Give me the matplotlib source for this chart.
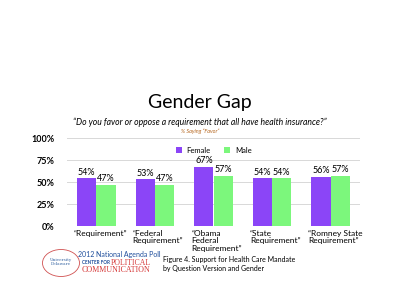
import numpy as np
import matplotlib.pyplot as plt
from matplotlib.patches import Ellipse

categories = ['\u201cRequirement\u201d', '\u201cFederal\nRequirement\u201d',
              '\u201cObama\nFederal\nRequirement\u201d', '\u201cState\nRequirement\u201d',
              '\u201cRomney State\nRequirement\u201d']
female = [54, 53, 67, 54, 56]
male = [47, 47, 57, 54, 57]
yticks = [0, 25, 50, 75, 100]

purple = '#8b45f7'
green = '#7cf77c'
plt.rcParams['font.family'] = ['Lato', 'DejaVu Sans']

fig = plt.figure(figsize=(4, 3), dpi=100)
ax = fig.add_axes([67 / 400, 1 - 226 / 300, 293 / 400, 88 / 300])

x = np.arange(len(categories))
w = 0.33
b1 = ax.bar(x - w / 2, female, w, color=purple, label='Female')
b2 = ax.bar(x + w / 2, male, w, color=green, label='Male')
for bars, vals in ((b1, female), (b2, male)):
    for r, v in zip(bars, vals):
        ax.text(r.get_x() + r.get_width() / 2, v + 2, f'{v}%', ha='center',
                va='bottom', fontsize=6.5)

ax.set_xlim(-0.5, 4.5)
ax.set_ylim(0, 100)
ax.set_yticks(yticks)
ax.set_yticklabels([f'{t}%' for t in yticks], fontsize=6.5, fontweight='bold')
ax.yaxis.grid(True, color='#d8d8d8', lw=0.7)
ax.set_axisbelow(True)
for s in ax.spines.values():
    s.set_visible(False)
ax.tick_params(length=0, pad=9)
ax.set_xticks([])
for i, c in enumerate(categories):
    ax.text(i - 0.38, -4, c, ha='left', va='top', fontsize=6, linespacing=1.1)

ax.legend(loc='upper center', bbox_to_anchor=(0.5, 0.98), ncol=2, frameon=False,
          fontsize=5.5, handlelength=0.8, handleheight=0.8, columnspacing=1.8,
          handletextpad=0.6)

fig.text(0.5, 1 - 103 / 300, 'Gender Gap', ha='center', va='center', fontsize=14)
fig.text(0.5, 1 - 122 / 300,
         '\u201cDo you favor or oppose a requirement that all have health insurance?\u201d',
         ha='center', va='center', fontsize=6.2, style='italic')
fig.text(0.5, 1 - 131 / 300, '% Saying \u201cFavor\u201d', ha='center', va='center',
         fontsize=4, style='italic', color='#b5651d')

# logo and caption
fig.patches.append(Ellipse((61 / 400, 1 - 263 / 300), 37 / 400, 27 / 300,
                           transform=fig.transFigure, fill=False, ec='#d05050', lw=0.6))
fig.text(61 / 400, 1 - 262 / 300, 'University\nDelaware', ha='center', va='center',
         fontsize=3, color='#3060a0', family='serif')
fig.text(78 / 400, 1 - 255 / 300, '2012 National Agenda Poll', fontsize=5,
         color='#1f4e9c', va='center')
fig.text(82 / 400, 1 - 263 / 300, 'CENTER FOR', fontsize=3.3, fontweight='bold',
         color='#1f4e9c', va='center')
fig.text(111 / 400, 1 - 263 / 300, 'POLITICAL', fontsize=5.6, color='#d63b3b',
         va='center', family='Liberation Serif')
fig.text(82 / 400, 1 - 270.5 / 300, 'COMMUNICATION', fontsize=5.8, color='#d63b3b',
         va='center', family='Liberation Serif')
fig.text(163 / 400, 1 - 264 / 300,
         'Figure 4. Support for Health Care Mandate\nby Question Version and Gender',
         fontsize=5, va='center', linespacing=1.3)

fig.savefig('out.png', dpi=100, facecolor='white')
